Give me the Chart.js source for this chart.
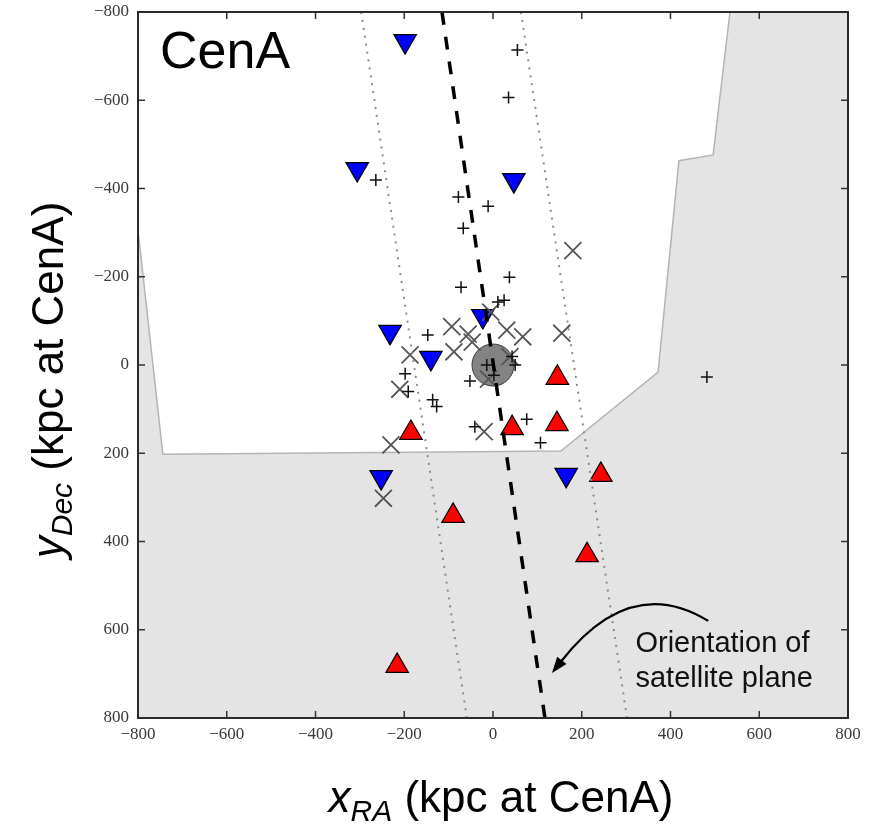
<!DOCTYPE html>
<html>
<head>
<meta charset="utf-8">
<script src="https://cdn.jsdelivr.net/npm/chart.js@4.4.1/dist/chart.umd.min.js"></script>
<style>
	html, body { margin: 0; padding: 0; background: #fff; }
	#wrap { width: 872px; height: 825px; position: relative; }
</style>
</head>
<body>
<div id="wrap"><canvas id="chart"></canvas></div>
<script>
(() => {
	'use strict'

	// Axis ticks (kpc at CenA)
	const tickValues = [-800, -600, -400, -200, 0, 200, 400, 600, 800];

	// Survey footprint edge (white above this line, grey outside)
	const footprint = [[-800, -306], [-744, 202], [153, 195], [372, 16], [419, -463], [496, -476], [534, -800]];

	// Host galaxy
	const host = [[0, 0]];

	// Satellites approaching (blue, pointing down)
	const blueSats = [[-198, -734], [-306, -444], [47, -419], [-232, -75], [-140, -16], [-23, -111], [-252, 254], [165, 249]];

	// Satellites receding (red, pointing up)
	const redSats = [[145, 29], [144, 134], [43, 143], [-185, 154], [243, 249], [212, 431], [-90, 342], [-216, 682]];

	// Candidates (x)
	const candidates = [[180, -259], [-93, -87], [-56, -70], [-47, -52], [-88, -30], [-187, -23], [-210, 55], [31, -79],
		[67, -64], [155, -72], [38, -19], [-10, 32], [-20, 151], [-230, 181], [-5, -120], [-247, 302]];

	// Other members (+)
	const members = [[55, -714], [35, -606], [-264, -419], [-78, -381], [-11, -360], [-67, -310], [37, -199], [-72, -176],
		[11, -143], [25, -147], [-147, -68], [-198, 20], [-191, 60], [-136, 79], [-127, 94], [-52, 36], [-14, 0], [2, 23],
		[43, -19], [50, 0], [-41, 140], [76, 123], [107, 176], [482, 27]];

	// Satellite plane: axis and its width
	const planeAxis = [[-115, -800], [117, 800]];
	const planeLeft = [[-297, -800], [-59, 800]];
	const planeRight = [[63, -800], [302, 800]];

	// Annotation arrow (start, control, tip) and text anchor
	const arrowPath = [[485, 580], [309, 471], [133, 698]];
	const noteAnchor = [321, 650];
	const noteLines = ['Orientation of', 'satellite plane'];

	const toXY = list => list.map(p => ({ x: p[0], y: p[1] }));
	const minus = v => (v < 0 ? '\u2212' + Math.abs(v) : String(v));

	const sans = '"Liberation Sans", Arial, Helvetica, sans-serif';
	const serif = '"Liberation Serif", "Times New Roman", serif';

	// Grey sky outside the footprint
	const backgroundPlugin = {
		id: 'background',
		beforeDatasetsDraw(chart) {
			const { ctx, chartArea: a } = chart;
			ctx.save();
			ctx.fillStyle = '#e4e4e4';
			ctx.fillRect(a.left, a.top, a.right - a.left, a.bottom - a.top);
			ctx.restore();
		}
	};

	// Draws text made of [string, font, baseline shift] parts, centered on 0
	function drawParts(ctx, parts) {
		let total = 0;
		parts.forEach(p => { ctx.font = p[1]; total += ctx.measureText(p[0]).width; });
		let x = -total / 2;
		parts.forEach(p => {
			ctx.font = p[1];
			ctx.fillText(p[0], x, p[2]);
			x += ctx.measureText(p[0]).width;
		});
	}

	// Frame, inward ticks, tick labels, titles and annotation
	const decorPlugin = {
		id: 'decor',
		afterDatasetsDraw(chart) {
			const { ctx, chartArea: a } = chart;
			const xs = chart.scales.x, ys = chart.scales.y;
			const px = v => xs.getPixelForValue(v), py = v => ys.getPixelForValue(v);
			ctx.save();

			// inward ticks
			ctx.strokeStyle = '#333';
			ctx.lineWidth = 1.5;
			ctx.beginPath();
			tickValues.forEach(v => {
				const x = px(v), y = py(v);
				ctx.moveTo(x, a.bottom); ctx.lineTo(x, a.bottom - 7);
				ctx.moveTo(x, a.top); ctx.lineTo(x, a.top + 7);
				ctx.moveTo(a.left, y); ctx.lineTo(a.left + 7, y);
				ctx.moveTo(a.right, y); ctx.lineTo(a.right - 7, y);
			});
			ctx.stroke();

			// frame
			ctx.lineWidth = 2;
			ctx.strokeStyle = '#2a2a2a';
			ctx.strokeRect(a.left, a.top, a.right - a.left, a.bottom - a.top);

			// tick labels
			ctx.fillStyle = '#3a3a3a';
			ctx.font = '17px ' + serif;
			ctx.textAlign = 'center';
			ctx.textBaseline = 'top';
			tickValues.forEach(v => ctx.fillText(minus(v), px(v), a.bottom + 8));
			ctx.textAlign = 'right';
			ctx.textBaseline = 'middle';
			tickValues.forEach(v => ctx.fillText(minus(v), a.left - 9, py(v)));

			// panel name
			ctx.fillStyle = '#000';
			ctx.textBaseline = 'alphabetic';
			ctx.textAlign = 'left';
			ctx.font = '52px ' + sans;
			ctx.fillText('CenA', a.left + 22, a.top + 56);

			// arrow
			const p0 = arrowPath[0], c = arrowPath[1], p2 = arrowPath[2];
			const tipX = px(p2[0]), tipY = py(p2[1]);
			const cx = px(c[0]), cy = py(c[1]);
			const ang = Math.atan2(tipY - cy, tipX - cx);
			const headLen = 16, headW = 6;
			const backX = tipX - Math.cos(ang) * (headLen - 2), backY = tipY - Math.sin(ang) * (headLen - 2);
			ctx.strokeStyle = '#000';
			ctx.lineWidth = 2.2;
			ctx.beginPath();
			ctx.moveTo(px(p0[0]), py(p0[1]));
			ctx.quadraticCurveTo(cx, cy, backX, backY);
			ctx.stroke();
			ctx.beginPath();
			ctx.moveTo(tipX, tipY);
			ctx.lineTo(tipX - Math.cos(ang) * headLen - Math.sin(ang) * headW, tipY - Math.sin(ang) * headLen + Math.cos(ang) * headW);
			ctx.lineTo(tipX - Math.cos(ang) * headLen + Math.sin(ang) * headW, tipY - Math.sin(ang) * headLen - Math.cos(ang) * headW);
			ctx.closePath();
			ctx.fillStyle = '#000';
			ctx.fill();

			// annotation text
			ctx.font = '29px ' + sans;
			ctx.fillStyle = '#111';
			noteLines.forEach((t, i) => ctx.fillText(t, px(noteAnchor[0]), py(noteAnchor[1]) + i * 35));

			// axis titles
			ctx.fillStyle = '#000';
			ctx.textAlign = 'left';
			ctx.save();
			ctx.translate((a.left + a.right) / 2 + 8, 812);
			drawParts(ctx, [
				['x', 'italic 44px ' + sans, 0],
				['RA', 'italic 30px ' + sans, 9],
				[' (kpc at CenA)', '44px ' + sans, 0]
			]);
			ctx.restore();

			ctx.save();
			ctx.translate(63, (a.top + a.bottom) / 2 + 15);
			ctx.rotate(-Math.PI / 2);
			drawParts(ctx, [
				['y', 'italic 44px ' + sans, 0],
				['Dec', 'italic 30px ' + sans, 9],
				[' (kpc at CenA)', '44px ' + sans, 0]
			]);
			ctx.restore();

			ctx.restore();
		}
	};

	const config = {
		type: 'scatter',
		data: {
			datasets: [
				{
					type: 'line',
					label: 'footprint',
					data: toXY(footprint),
					borderColor: '#b4b4b4',
					borderWidth: 1.5,
					backgroundColor: '#ffffff',
					fill: { target: { value: -800 } },
					pointRadius: 0,
					tension: 0,
					order: 9
				},
				{
					label: 'CenA',
					data: toXY(host),
					pointRadius: 21,
					pointBackgroundColor: '#838383',
					pointBorderColor: '#3c3c3c',
					pointBorderWidth: 1,
					order: 8
				},
				{
					label: 'approaching',
					data: toXY(blueSats),
					pointStyle: 'triangle',
					pointRotation: 180,
					pointRadius: 13,
					pointBackgroundColor: '#0000ff',
					pointBorderColor: '#000',
					pointBorderWidth: 1.2,
					order: 7
				},
				{
					label: 'receding',
					data: toXY(redSats),
					pointStyle: 'triangle',
					pointRadius: 13,
					pointBackgroundColor: '#ff0000',
					pointBorderColor: '#000',
					pointBorderWidth: 1.2,
					order: 6
				},
				{
					label: 'candidates',
					data: toXY(candidates),
					pointStyle: 'crossRot',
					pointRadius: 12,
					pointBorderColor: '#555',
					pointBorderWidth: 1.8,
					order: 5
				},
				{
					label: 'members',
					data: toXY(members),
					pointStyle: 'cross',
					pointRadius: 6,
					pointBorderColor: '#111',
					pointBorderWidth: 1.5,
					order: 4
				},
				{
					type: 'line',
					label: 'plane left',
					data: toXY(planeLeft),
					borderColor: '#8c8c8c',
					borderWidth: 2,
					borderDash: [2, 6],
					pointRadius: 0,
					fill: false,
					order: 3
				},
				{
					type: 'line',
					label: 'plane right',
					data: toXY(planeRight),
					borderColor: '#8c8c8c',
					borderWidth: 2,
					borderDash: [2, 6],
					pointRadius: 0,
					fill: false,
					order: 3
				},
				{
					type: 'line',
					label: 'plane axis',
					data: toXY(planeAxis),
					borderColor: '#000',
					borderWidth: 3.5,
					borderDash: [13, 12],
					pointRadius: 0,
					fill: false,
					order: 2
				}
			]
		},
		options: {
			responsive: true,
			maintainAspectRatio: false,
			animation: false,
			events: [],
			layout: {
				autoPadding: false,
				padding: { top: 12, right: 24, left: 0, bottom: 0 }
			},
			plugins: {
				legend: { display: false },
				tooltip: { enabled: false },
				title: { display: false }
			},
			scales: {
				x: {
					type: 'linear',
					min: -800,
					max: 800,
					afterFit: s => { s.height = 107; },
					ticks: { display: false },
					grid: { display: false },
					border: { display: false }
				},
				y: {
					type: 'linear',
					reverse: true,
					min: -800,
					max: 800,
					afterFit: s => { s.width = 138; },
					ticks: { display: false },
					grid: { display: false },
					border: { display: false }
				}
			}
		},
		plugins: [backgroundPlugin, decorPlugin]
	};

	new Chart(document.getElementById('chart'), config);
})()
</script>
</body>
</html>
